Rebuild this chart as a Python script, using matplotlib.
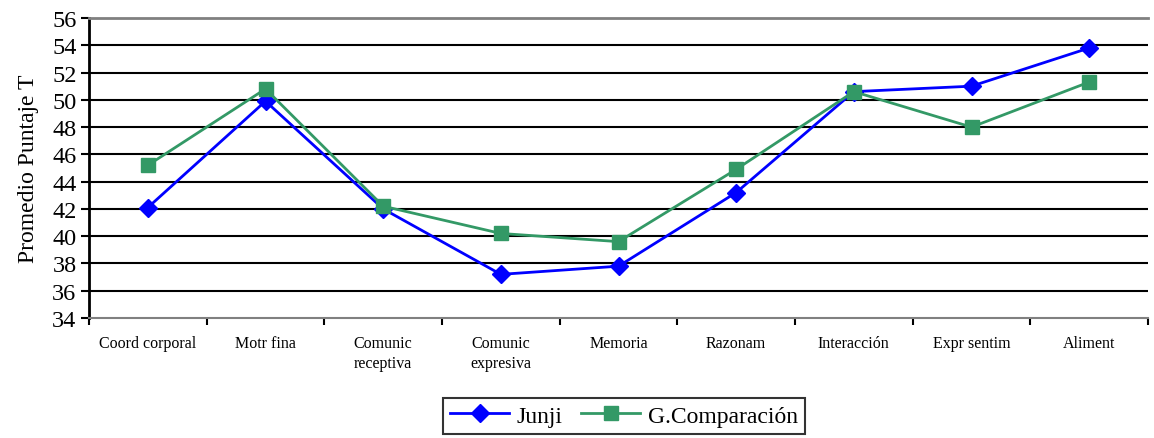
import matplotlib
matplotlib.use("Agg")
import matplotlib.pyplot as plt
import numpy as np

categories = ["Coord corporal", "Motr fina", "Comunic\nreceptiva", "Comunic\nexpresiva",
              "Memoria", "Razonam", "Interacción", "Expr sentim", "Aliment"]
junji = [42.1, 49.9, 42.0, 37.2, 37.8, 43.2, 50.6, 51.0, 53.8]
comparacion = [45.2, 50.8, 42.2, 40.2, 39.6, 44.9, 50.6, 48.0, 51.3]
yticks = [34, 36, 38, 40, 42, 44, 46, 48, 50, 52, 54, 56]

plt.rcParams['font.family'] = ['Liberation Serif', 'DejaVu Serif']

fig = plt.figure(figsize=(11.54, 4.39), dpi=100)
ax = fig.add_axes([89/1154, 1-319/439, (1148-89)/1154, 300/439])

x = np.arange(len(categories))
ax.set_xlim(-0.5, len(categories) - 0.5)
ax.set_ylim(34, 56)

for y in yticks[1:-1]:
    ax.axhline(y, color='black', lw=1.5, zorder=1)

ax.plot(x, junji, color='#0000FF', lw=2, marker='D', markersize=9.5, label='Junji', zorder=3)
ax.plot(x, comparacion, color='#339966', lw=2, marker='s', markersize=10, label='G.Comparación', zorder=3)

ax.set_yticks(yticks)
ax.set_yticklabels([str(v) for v in yticks], fontsize=17.5)
ax.set_xticks(np.arange(-0.5, len(categories)), minor=False)
ax.set_xticklabels([])
ax.set_xticks(x, minor=True)
ax.set_xticklabels(categories, minor=True, fontsize=11.5, va='top', linespacing=1.4)
ax.tick_params(axis='x', which='minor', length=0, pad=12)
ax.tick_params(axis='x', which='major', length=5, width=1.5, color='black', direction='out')
ax.tick_params(axis='y', length=6, width=1.5, direction='out', pad=3)

ax.spines['left'].set_color('black')
ax.spines['left'].set_linewidth(2)
ax.spines['bottom'].set_color('#808080')
ax.spines['bottom'].set_linewidth(1.5)
ax.spines['top'].set_color('#808080')
ax.spines['top'].set_linewidth(2)
ax.spines['right'].set_visible(False)

ax.set_ylabel('Promedio Puntaje T', fontsize=17, labelpad=9)

leg = fig.legend(loc='upper center', bbox_to_anchor=(624/1154, 1-399/439), ncol=2, fontsize=17,
                 frameon=True, fancybox=False, edgecolor='black', borderpad=0.3,
                 borderaxespad=0, handlelength=2.5, columnspacing=0.8, handletextpad=0.3)
leg.get_frame().set_linewidth(1.5)

fig.savefig('out.png', dpi=100)
